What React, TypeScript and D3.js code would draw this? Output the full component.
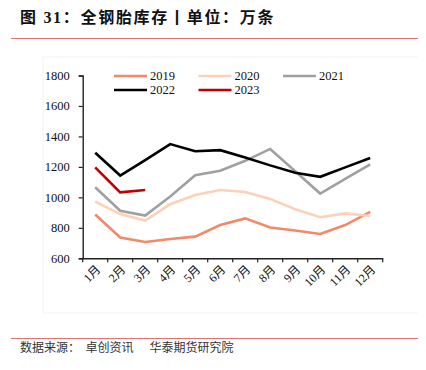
import React, { useEffect, useRef } from "react";
import * as d3 from "d3";

const months = ["1月", "2月", "3月", "4月", "5月", "6月", "7月", "8月", "9月", "10月", "11月", "12月"];
const years = ["2019", "2020", "2021", "2022", "2023"];
const s2019 = [888, 737, 707, 727, 742, 818, 862, 802, 783, 760, 818, 905];
const s2020 = [972, 890, 848, 955, 1015, 1048, 1035, 990, 922, 870, 895, 878];
const s2021 = [1066, 912, 880, 1005, 1145, 1175, 1240, 1318, 1172, 1025, 1122, 1217];
const s2022 = [1293, 1143, 1245, 1350, 1303, 1310, 1262, 1210, 1162, 1135, 1197, 1258];
const s2023 = [1197, 1033, 1048];
const yTicks = [600, 800, 1000, 1200, 1400, 1600, 1800];
const colors = ["#f08a68", "#fcd0b9", "#a0a0a0", "#000000", "#c00000"];

const serif = "'Liberation Serif', 'Times New Roman', 'Noto Serif CJK SC', serif";
const cjk = "'Liberation Serif', 'Noto Sans CJK SC', sans-serif";

const App = () => {
  const ref = useRef(null);

  useEffect(() => {
    const root = d3.select(ref.current);
    root.selectAll("*").remove();
    const svg = root
      .append("svg")
      .attr("width", 426)
      .attr("height", 370)
      .style("display", "block")
      .style("margin", "-8px");

    // header
    svg.append("text")
      .attr("x", 20)
      .attr("y", 23)
      .attr("font-family", cjk)
      .attr("font-weight", "bold")
      .attr("font-size", 16)
      .attr("letter-spacing", 1.7)
      .attr("fill", "#111")
      .text("图 31：全钢胎库存丨单位：万条");
    svg.append("line").attr("x1", 11).attr("x2", 423).attr("y1", 38.5).attr("y2", 38.5)
      .attr("stroke", "#de7474").attr("stroke-width", 1.2);

    // faint chart frame
    svg.append("rect").attr("x", 43).attr("y", 57).attr("width", 380).attr("height", 256)
      .attr("fill", "none").attr("stroke", "#f3f3f3");

    const x = d3.scaleBand().domain(months).range([82.7, 382.7]);
    const y = d3.scaleLinear().domain([600, 1800]).range([258.3, 75.5]);

    const series = [s2019, s2020, s2021, s2022, s2023];
    const line = d3.line<number>()
      .x((d, i) => x(months[i]) + x.bandwidth() / 2)
      .y((d) => y(d));

    series.forEach((s, i) => {
      svg.append("path")
        .attr("d", line(s))
        .attr("fill", "none")
        .attr("stroke", colors[i])
        .attr("stroke-width", 2.6)
        .attr("stroke-linejoin", "miter");
    });

    // y axis
    const ya = svg.append("g")
      .attr("transform", `translate(82.7,0)`)
      .call(d3.axisLeft(y).tickValues(yTicks).tickSize(4).tickPadding(9).tickFormat(d3.format("d")));
    ya.select(".domain").attr("stroke", "#222").attr("stroke-width", 1.4);
    ya.selectAll(".tick line").attr("stroke", "#222").attr("stroke-width", 1.2);
    ya.selectAll(".tick text").attr("font-family", serif).attr("font-size", 12.5).attr("fill", "#111");

    // x axis, ticks sit on the band edges
    const xa = svg.append("g")
      .attr("transform", `translate(0,258.3)`)
      .call(d3.axisBottom(x).tickSize(0).tickSizeOuter(0).tickFormat(() => ""));
    xa.select(".domain").attr("stroke", "#222").attr("stroke-width", 1.4);
    xa.selectAll(".tick").remove();
    const edges = months.map((m) => x(m)).concat([x.range()[1]]);
    xa.selectAll("line.b")
      .data(edges)
      .enter()
      .append("line")
      .attr("x1", (d) => d)
      .attr("x2", (d) => d)
      .attr("y1", 0)
      .attr("y2", 4)
      .attr("stroke", "#222")
      .attr("stroke-width", 1.2);
    xa.selectAll("text.m")
      .data(months)
      .enter()
      .append("text")
      .attr("transform", (d) => `translate(${x(d) + x.bandwidth() / 2 + 3},${9}) rotate(-45)`)
      .attr("text-anchor", "end")
      .attr("dy", "0.35em")
      .attr("font-family", cjk)
      .attr("font-size", 12)
      .attr("fill", "#111")
      .text((d) => d);

    // legend
    const lg = svg.append("g");
    years.forEach((yr, i) => {
      const col = i % 3;
      const row = Math.floor(i / 3);
      const lx = 114 + col * 84.5;
      const ly = 76 + row * 14;
      lg.append("line").attr("x1", lx).attr("x2", lx + 33).attr("y1", ly).attr("y2", ly)
        .attr("stroke", colors[i]).attr("stroke-width", 2.6);
      lg.append("text").attr("x", lx + 36).attr("y", ly + 4.3)
        .attr("font-family", serif).attr("font-size", 12.5).attr("fill", "#111").text(yr);
    });

    // footer
    svg.append("line").attr("x1", 11).attr("x2", 423).attr("y1", 338.5).attr("y2", 338.5)
      .attr("stroke", "#de7474").attr("stroke-width", 1.2);
    svg.append("text")
      .attr("x", 20)
      .attr("y", 352)
      .attr("font-family", "'Noto Sans CJK SC', sans-serif")
      .attr("font-size", 12)
      .attr("fill", "#333")
      .attr("xml:space", "preserve")
      .style("white-space", "pre")
      .text("数据来源：  卓创资讯      华泰期货研究院");
  }, []);

  return <div ref={ref}></div>;
};

export default App;
